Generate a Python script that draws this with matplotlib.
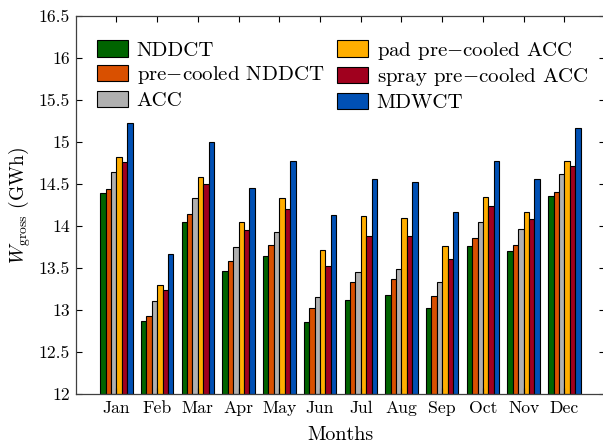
import numpy as np
import matplotlib
matplotlib.use("Agg")
import matplotlib.pyplot as plt

plt.rcParams['font.family'] = 'serif'
plt.rcParams['font.serif'] = ['cmr10']
plt.rcParams['mathtext.fontset'] = 'cm'
plt.rcParams['axes.formatter.use_mathtext'] = True

months = ['Jan', 'Feb', 'Mar', 'Apr', 'May', 'Jun', 'Jul', 'Aug', 'Sep', 'Oct', 'Nov', 'Dec']

nddct = [14.39, 12.87, 14.05, 13.47, 13.64, 12.86, 13.12, 13.18, 13.03, 13.76, 13.70, 14.36]
pre_nddct = [14.44, 12.93, 14.14, 13.58, 13.77, 13.03, 13.34, 13.37, 13.17, 13.86, 13.77, 14.41]
acc = [14.65, 13.11, 14.33, 13.75, 13.93, 13.16, 13.45, 13.49, 13.33, 14.05, 13.96, 14.62]
pad_acc = [14.82, 13.30, 14.59, 14.05, 14.34, 13.71, 14.12, 14.10, 13.76, 14.35, 14.17, 14.77]
spray_acc = [14.76, 13.24, 14.50, 13.95, 14.20, 13.52, 13.88, 13.88, 13.61, 14.24, 14.09, 14.72]
mdwct = [15.23, 13.67, 15.00, 14.46, 14.77, 14.13, 14.56, 14.53, 14.17, 14.77, 14.56, 15.17]

series = [nddct, pre_nddct, acc, pad_acc, spray_acc, mdwct]
labels = ['NDDCT', r'pre$-$cooled NDDCT', 'ACC', r'pad pre$-$cooled ACC',
          r'spray pre$-$cooled ACC', 'MDWCT']
colors = ['#006400', '#D95000', '#B0B0B0', '#FFAE00', '#A0001E', '#0050B4']

fig = plt.figure(figsize=(6.03, 4.47), dpi=100)
ax = fig.add_axes([0.1255, 0.1186, 0.878, 0.845])

x = np.arange(1, len(months) + 1)
w = 0.133
for i, (vals, lab, col) in enumerate(zip(series, labels, colors)):
    ax.bar(x + (i - 2.5) * w, np.array(vals) - 12, width=w, bottom=12, color=col,
           edgecolor='black', linewidth=0.8, label=lab)

ax.set_xlim(0, 13)
ax.set_ylim(12, 16.5)
ax.set_xticks(x)
ax.set_xticklabels(months)
ax.set_yticks(np.arange(12, 16.51, 0.5))
ax.set_yticklabels(['12', '12.5', '13', '13.5', '14', '14.5', '15', '15.5', '16', '16.5'])
ax.tick_params(direction='in', length=4.5, width=0.8, labelsize=12.7,
               top=True, right=True, pad=4)
ax.tick_params(axis='x', pad=5)
for s in ax.spines.values():
    s.set_linewidth(0.9)
    s.set_color('#404040')

ax.set_xlabel('Months', fontsize=14.5, labelpad=7)
ax.set_ylabel(r'$W_{\mathrm{gross}}$ (GWh)', fontsize=14, labelpad=4)

ax.legend(loc='upper left', bbox_to_anchor=(0.0, 0.993), ncol=2, frameon=False,
          fontsize=15, handlelength=1.52, handleheight=0.82, labelspacing=0.22,
          columnspacing=0.6, handletextpad=0.4, borderaxespad=0.6)

fig.savefig('out.png', dpi=100)
